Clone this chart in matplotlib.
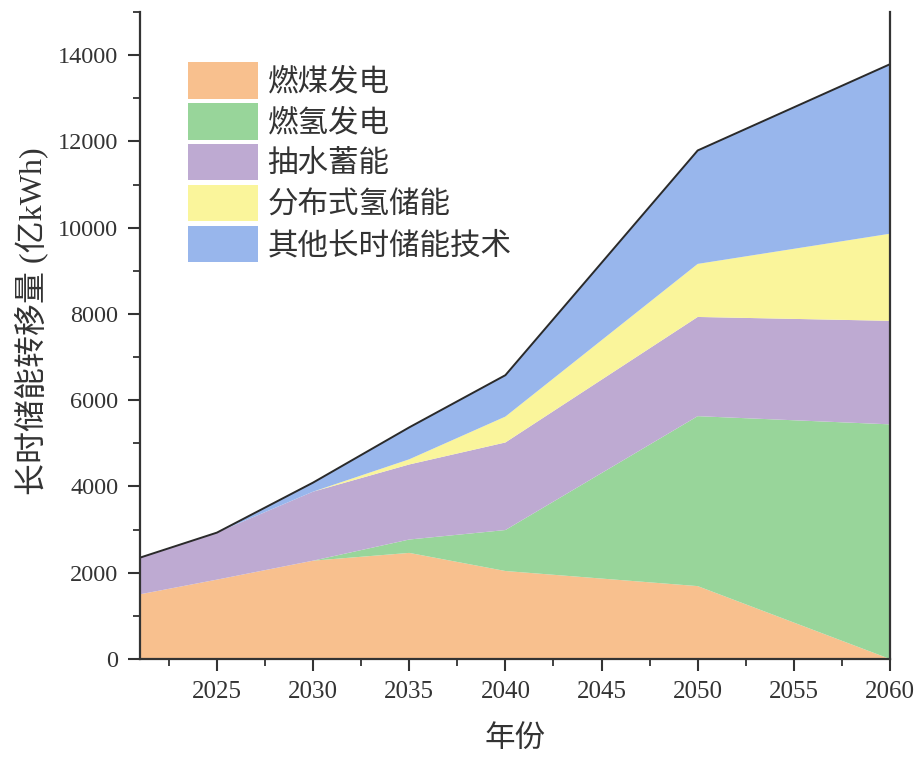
import numpy as np
import matplotlib
matplotlib.use("Agg")
import matplotlib.pyplot as plt
from matplotlib.ticker import MultipleLocator
from matplotlib.patches import Patch

plt.rcParams['font.family'] = ['Liberation Serif', 'Noto Sans CJK SC']

years = [2021, 2025, 2030, 2035, 2040, 2050, 2060]
coal_power = [1500, 1840, 2280, 2460, 2040, 1690, 0]
hydrogen_power = [0, 0, 0, 310, 950, 3940, 5440]
pumped_hydro = [850, 1090, 1600, 1740, 2030, 2300, 2400]
distributed_h2 = [0, 0, 0, 120, 600, 1230, 2020]
other_long = [0, 0, 210, 740, 960, 2630, 3930]

labels = ["燃煤发电", "燃氢发电", "抽水蓄能", "分布式氢储能", "其他长时储能技术"]
colors = ["#F8C08E", "#98D59A", "#BEAAD2", "#FAF59B", "#98B6EC"]

series = [coal_power, hydrogen_power, pumped_hydro, distributed_h2, other_long]
total = np.sum(np.array(series), axis=0)

fig = plt.figure(figsize=(9.19, 7.6), dpi=100)
ax = fig.add_axes([140 / 919, 1 - 659 / 760, 750 / 919, 647 / 760])

ax.stackplot(years, *series, colors=colors, linewidth=0)
ax.plot(years, total, color="#2a2a2a", lw=1.4)

ax.set_xlim(2021, 2060)
ax.set_ylim(0, 15000)
ax.xaxis.set_minor_locator(MultipleLocator(2.5))
ax.yaxis.set_minor_locator(MultipleLocator(1000))
ax.set_yticks(range(0, 14001, 2000))
ax.set_xticks(range(2025, 2061, 5))

ax.spines["top"].set_visible(False)
for s in ("left", "bottom", "right"):
    ax.spines[s].set_linewidth(1.6)
    ax.spines[s].set_color("#333333")
ax.tick_params(axis="both", which="major", direction="out", length=8.5, width=1.5,
               labelsize=18, colors="#333333")
ax.tick_params(axis="both", which="minor", direction="out", length=5, width=1.3,
               colors="#333333")
ax.tick_params(axis="x", which="major", pad=7.5)
ax.tick_params(axis="y", which="major", pad=7, labelsize=17.5)
ax.tick_params(axis="y", right=False)

ax.set_xlabel("年份", fontsize=22, color="#333333", labelpad=16)
ax.set_ylabel("长时储能转移量 (亿kWh)", fontsize=23, color="#333333")
ax.yaxis.set_label_coords(-0.123, 0.522)

handles = [Patch(facecolor=c, edgecolor="none") for c in colors]
leg = ax.legend(handles, labels, loc="upper left", bbox_to_anchor=(0.064, 0.922),
                frameon=False, prop={'family': 'Noto Sans CJK SC', 'size': 22},
                handlelength=2.3, handleheight=1.45, labelspacing=0.15,
                handletextpad=0.3, borderaxespad=0, borderpad=0)
for t in leg.get_texts():
    t.set_color("#333333")

fig.savefig("out.png", dpi=100)
